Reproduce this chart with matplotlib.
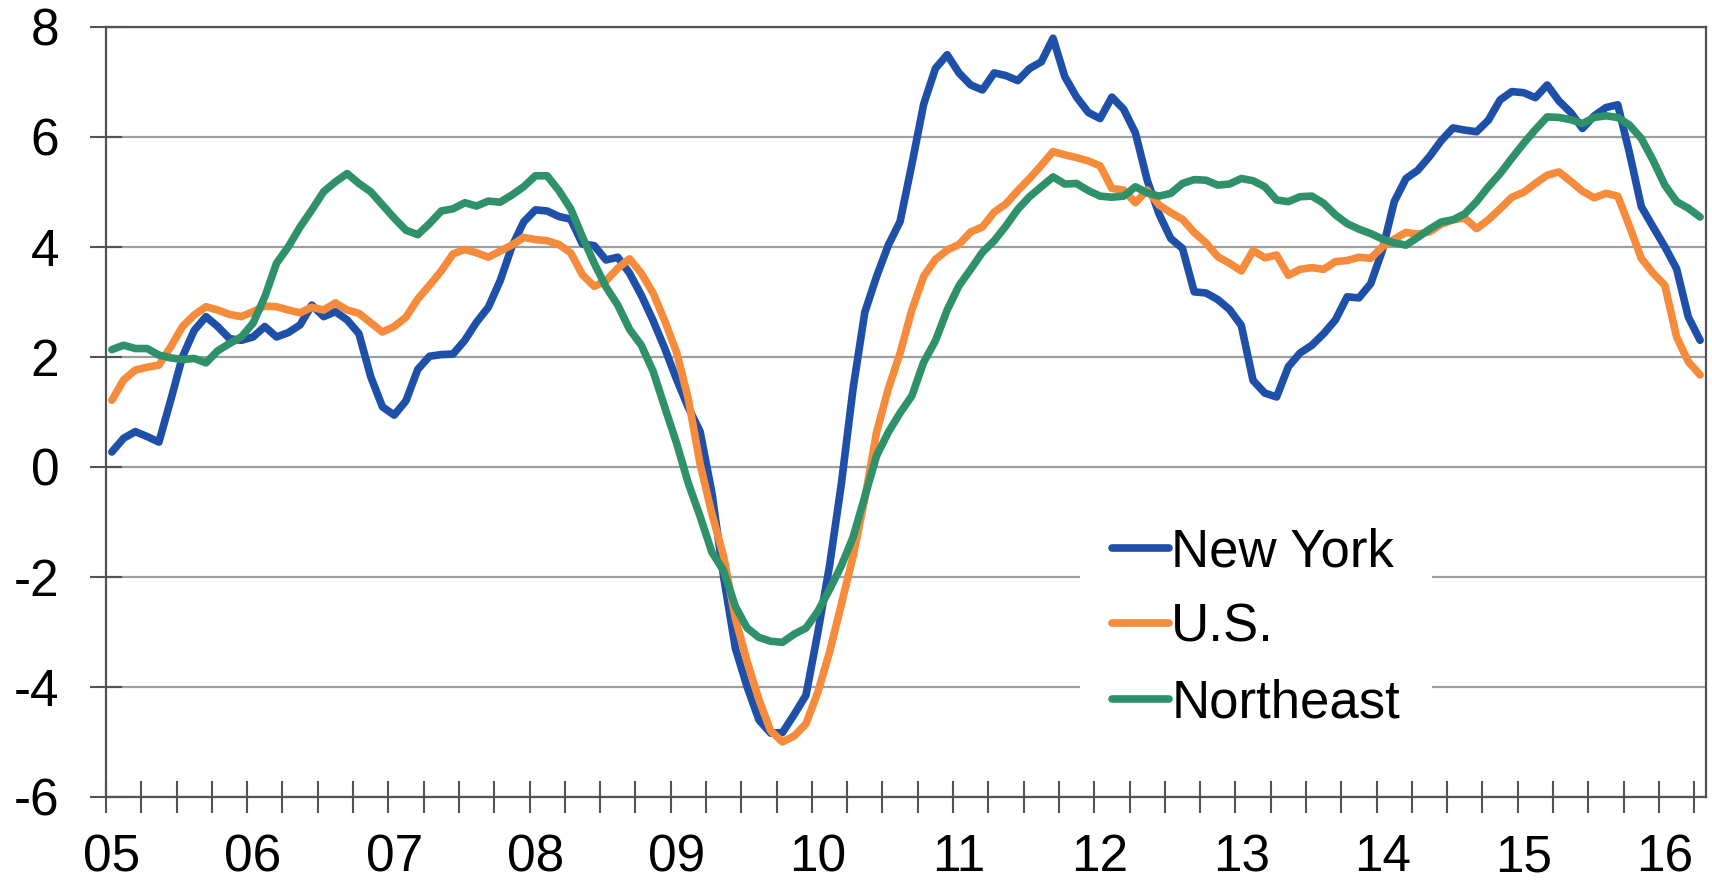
import numpy as np
import matplotlib
matplotlib.use('Agg')
import matplotlib.pyplot as plt

# monthly values, Jan 2005 .. Apr 2016
new_york = [
    0.27, 0.52, 0.64, 0.55, 0.45, 1.21, 2.00, 2.48, 2.73, 2.55,
    2.33, 2.30, 2.36, 2.55, 2.36, 2.44, 2.58, 2.94, 2.73, 2.82,
    2.67, 2.42, 1.64, 1.09, 0.94, 1.20, 1.77, 2.01, 2.04, 2.05,
    2.30, 2.63, 2.90, 3.38, 4.00, 4.45, 4.67, 4.65, 4.55, 4.50,
    4.05, 4.02, 3.76, 3.81, 3.52, 3.12, 2.66, 2.15, 1.59, 1.08,
    0.64, -0.47, -2.00, -3.30, -4.00, -4.60, -4.84, -4.83, -4.50, -4.15,
    -3.02, -1.80, -0.32, 1.42, 2.81, 3.46, 4.03, 4.46, 5.50, 6.59,
    7.24, 7.49, 7.16, 6.94, 6.85, 7.16, 7.11, 7.02, 7.24, 7.36,
    7.79, 7.09, 6.72, 6.44, 6.33, 6.72, 6.50, 6.07, 5.21, 4.60,
    4.15, 3.97, 3.18, 3.16, 3.04, 2.86, 2.57, 1.57, 1.34, 1.27,
    1.82, 2.07, 2.21, 2.42, 2.67, 3.09, 3.07, 3.33, 3.94, 4.82,
    5.24, 5.39, 5.64, 5.93, 6.16, 6.12, 6.09, 6.30, 6.67, 6.82,
    6.80, 6.71, 6.94, 6.65, 6.44, 6.15, 6.38, 6.53, 6.58, 5.70,
    4.73, 4.36, 4.00, 3.60, 2.72, 2.30,
]
us = [
    1.21, 1.58, 1.76, 1.81, 1.85, 2.18, 2.55, 2.76, 2.91, 2.85,
    2.77, 2.73, 2.82, 2.92, 2.91, 2.85, 2.80, 2.90, 2.85, 2.98,
    2.85, 2.79, 2.62, 2.45, 2.55, 2.72, 3.05, 3.30, 3.56, 3.87,
    3.95, 3.89, 3.81, 3.92, 4.03, 4.17, 4.13, 4.11, 4.04, 3.89,
    3.49, 3.28, 3.38, 3.61, 3.78, 3.52, 3.16, 2.65, 2.08, 1.23,
    0.05, -0.85, -1.63, -2.76, -3.54, -4.23, -4.80, -5.00, -4.89, -4.67,
    -4.10, -3.37, -2.50, -1.63, -0.58, 0.63, 1.42, 2.07, 2.85, 3.46,
    3.77, 3.94, 4.04, 4.27, 4.36, 4.63, 4.78, 5.02, 5.24, 5.48,
    5.73, 5.67, 5.62, 5.56, 5.47, 5.06, 5.03, 4.80, 5.03, 4.76,
    4.62, 4.50, 4.26, 4.07, 3.82, 3.70, 3.56, 3.93, 3.80, 3.85,
    3.48, 3.59, 3.62, 3.59, 3.73, 3.75, 3.81, 3.79, 4.00, 4.14,
    4.26, 4.23, 4.27, 4.41, 4.49, 4.52, 4.33, 4.49, 4.69, 4.90,
    4.99, 5.15, 5.30, 5.36, 5.19, 5.01, 4.89, 4.97, 4.92, 4.37,
    3.79, 3.52, 3.30, 2.36, 1.91, 1.67,
]
northeast = [
    2.13, 2.21, 2.15, 2.15, 2.03, 1.98, 1.95, 1.97, 1.89, 2.11,
    2.24, 2.36, 2.61, 3.09, 3.70, 4.00, 4.36, 4.67, 5.00, 5.18,
    5.33, 5.15, 5.00, 4.76, 4.52, 4.30, 4.22, 4.42, 4.65, 4.69,
    4.80, 4.74, 4.83, 4.81, 4.94, 5.09, 5.29, 5.29, 5.02, 4.69,
    4.18, 3.70, 3.27, 2.94, 2.50, 2.21, 1.74, 1.08, 0.43, -0.30,
    -0.90, -1.55, -1.89, -2.54, -2.93, -3.10, -3.17, -3.19, -3.04, -2.93,
    -2.63, -2.23, -1.80, -1.28, -0.54, 0.20, 0.63, 0.98, 1.29, 1.90,
    2.29, 2.85, 3.29, 3.59, 3.90, 4.11, 4.38, 4.68, 4.91, 5.09,
    5.27, 5.14, 5.15, 5.02, 4.92, 4.90, 4.92, 5.09, 4.98, 4.92,
    4.97, 5.15, 5.22, 5.21, 5.12, 5.14, 5.24, 5.20, 5.09, 4.85,
    4.82, 4.91, 4.92, 4.79, 4.58, 4.42, 4.32, 4.24, 4.14, 4.07,
    4.03, 4.17, 4.32, 4.45, 4.49, 4.60, 4.82, 5.09, 5.33, 5.61,
    5.88, 6.13, 6.36, 6.35, 6.31, 6.24, 6.35, 6.38, 6.35, 6.21,
    5.97, 5.57, 5.12, 4.82, 4.70, 4.54,
]
year_labels = ['05', '06', '07', '08', '09', '10', '11', '12', '13', '14', '15', '16']
y_ticks = [-6, -4, -2, 0, 2, 4, 6, 8]

plt.rcParams['font.family'] = ['Liberation Sans', 'DejaVu Sans']
plt.rcParams['axes.unicode_minus'] = False

axisColor = '#505458'
gridColor = '#9b9ea2'
fontSize = 37
lineWidth = 5.5

fig = plt.figure(figsize=(17.12, 8.86), dpi=100)
ax = fig.add_axes([0.0619, 0.1005, 0.9346, 0.8694])

x = np.arange(len(new_york))
ax.plot(x, new_york, color='#1e4fa9', lw=lineWidth, label='New York',
        solid_capstyle='round', solid_joinstyle='round', zorder=3)
ax.plot(x, us, color='#f58b3b', lw=lineWidth, label='U.S.',
        solid_capstyle='round', solid_joinstyle='round', zorder=3)
ax.plot(x, northeast, color='#2e9169', lw=lineWidth, label='Northeast',
        solid_capstyle='round', solid_joinstyle='round', zorder=3)

ax.set_xlim(-0.5, len(new_york) - 0.5)
ax.set_ylim(-6, 8)

# year labels under the first month, quarter tick marks
ax.set_xticks(np.arange(0, len(new_york), 12))
ax.set_xticklabels(year_labels)
ax.set_xticks(np.arange(-0.5, len(new_york) - 1, 3), minor=True)
ax.tick_params(axis='x', which='major', length=0, pad=26, labelsize=fontSize)
ax.tick_params(axis='x', which='minor', direction='inout', length=23, width=1.5, color=axisColor)

ax.set_yticks(y_ticks)
ax.set_yticklabels([str(v) for v in y_ticks])
ax.tick_params(axis='y', direction='inout', length=23, width=1.5, color=axisColor,
               pad=22, labelsize=fontSize)

ax.grid(axis='y', color=gridColor, lw=1.6)
ax.set_axisbelow(True)
for side in ['left', 'right', 'top', 'bottom']:
    ax.spines[side].set_color(axisColor)
    ax.spines[side].set_linewidth(1.6)

ax.legend(loc='center left', bbox_to_anchor=(0.6157, 0.2915), bbox_transform=fig.transFigure,
          fontsize=38, frameon=True, facecolor='white', edgecolor='none', framealpha=1,
          fancybox=False, handlelength=1.07, handletextpad=0.05, labelspacing=0.48, borderpad=0.6)

plt.savefig('out.png', dpi=100)
plt.close()
